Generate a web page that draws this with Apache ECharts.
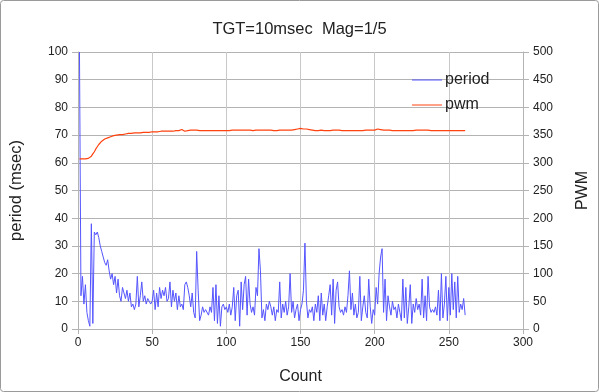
<!DOCTYPE html>
<html><head><meta charset="utf-8">
<script src="https://cdn.jsdelivr.net/npm/echarts@6/dist/echarts.min.js"></script>
<style>html,body{margin:0;padding:0;background:#fff}#c{width:599px;height:392px}</style>
</head><body><div id="c"></div>
<script>
const titleText = 'TGT=10msec  Mag=1/5';
const xTicks = [0, 50, 100, 150, 200, 250, 300];
const leftTicks = [0,10,20,30,40,50,60,70,80,90,100];
const rightTicks = [0,50,100,150,200,250,300,350,400,450,500];
const startCount = 1;
const period = [
 100,12,19,9,16,6,3,1,38,2,35,34,35,33,30,28,26,24,23,25,21,18,20,16,19,13,18,12,10,15,13,11,14,10,13,8,9,7,9,19,8,12,
 17,10,12,9,11,10,9,10,14,7,13,8,15,11,14,12,15,10,11,17,8,14,10,13,7,12,8,9,7,16,17,15,12,8,13,6,4,28,14,3,5,8,6,7,
 7,5,8,6,15,3,16,2,12,1,8,9,7,8,6,9,5,8,15,3,12,14,1,17,7,16,19,5,18,9,6,8,5,15,12,29,21,4,7,3,9,7,10,8,
 5,8,3,7,6,17,4,9,6,10,5,8,20,6,10,4,7,9,3,7,9,14,31,10,4,7,6,8,3,9,6,12,3,13,5,9,3,8,12,16,5,18,2,14,
 17,8,6,7,5,8,6,12,21,7,13,5,9,4,6,19,3,8,12,6,4,18,8,2,7,5,15,9,20,26,29,6,18,3,12,8,5,10,7,8,4,9,6,3,
 18,4,15,2,8,16,2,9,6,11,7,9,5,18,4,12,3,19,8,6,7,6,8,5,14,3,20,4,9,19,3,15,5,20,7,17,4,19,6,9,7,11,5
];
const pwm = [
 307,307,307,307,307,308,308,309,
 312,316,320,325,329,333,336,339,341,343,344,345,
 346,347,348,349,349,350,350,351,351,351,352,352,352,353,353,353,353,354,354,354,
 354,354,355,355,355,355,355,355,356,356,356,356,356,356,357,357,357,357,357,357,
 357,357,357,357,357,358,358,358,358,360,358,357,357,358,359,359,359,359,359,359,
 358,358,358,358,358,358,358,358,358,358,358,358,358,358,358,358,358,358,358,358,
 358,358,358,359,359,359,359,359,359,359,359,359,360,359,359,359,358,358,358,359,
 360,359,360,359,359,359,359,359,359,359,359,358,358,358,359,359,359,359,359,359,
 359,359,359,359,359,360,360,361,361,362,362,361,361,361,360,360,359,359,358,358,
 358,358,359,359,358,358,358,358,358,358,358,359,359,359,359,359,359,358,358,358,
 358,358,358,358,358,358,358,358,358,358,358,358,358,359,359,359,359,359,359,359,
 360,361,361,360,359,359,359,359,359,359,358,358,358,358,358,358,358,358,358,358,
 358,358,358,358,358,358,358,359,359,359,359,359,359,359,359,359,359,358,358,358,
 358,358,358,358,358,358,358,358,358,358,358,358,358,358,358,358,358,358,358,358,358
];
const periodData = period.map((v,i)=>[startCount+i, v]);
const pwmData = pwm.map((v,i)=>[startCount+i, v]);
const FONT = 'Liberation Sans';
const chart = echarts.init(document.getElementById('c'), null, {renderer:'canvas'});
const gridColor = '#b3b3b3';
chart.setOption({
  animation:false,
  backgroundColor:'#fff',
  textStyle:{fontFamily:FONT},
  title:{text:titleText, left:'center', top:16, textStyle:{fontFamily:FONT, fontSize:16.5, fontWeight:'normal', color:'#222'}},
  legend:{orient:'vertical', left:407, top:67, itemWidth:30, itemHeight:14, itemGap:9,
    textStyle:{fontFamily:FONT, fontSize:16, color:'#222', padding:[0,0,0,-2]},
    data:[{name:'period', icon:'path://M0,7L30,7L30,8L0,8Z'},{name:'pwm', icon:'path://M0,7L30,7L30,8L0,8Z'}]},
  grid:{left:77, right:72, top:52, bottom:63},
  graphic:[{type:'rect', shape:{x:0.5,y:0.5,width:598,height:391,r:3}, style:{fill:'none', stroke:'#9a9a9a', lineWidth:1}, silent:true}],
  xAxis:{type:'value', min:xTicks[0], max:xTicks[xTicks.length-1], interval:50,
    name:'Count', nameLocation:'middle', nameGap:40, nameTextStyle:{fontFamily:FONT, fontSize:16, color:'#222'},
    axisLine:{show:true, lineStyle:{color:gridColor}}, axisTick:{show:true, length:5, lineStyle:{color:gridColor}},
    axisLabel:{fontFamily:FONT, fontSize:12, color:'#222', margin:8},
    splitLine:{show:true, lineStyle:{color:'#c8c8c8', width:1}}},
  yAxis:[
    {type:'value', min:leftTicks[0], max:leftTicks[leftTicks.length-1], interval:10, position:'left',
     name:'period (msec)', nameLocation:'middle', nameGap:53, nameTextStyle:{fontFamily:FONT, fontSize:16.5, color:'#222'},
     axisLine:{show:true, lineStyle:{color:gridColor}}, axisTick:{show:true, length:6, lineStyle:{color:gridColor}},
     axisLabel:{fontFamily:FONT, fontSize:12, color:'#222', margin:10},
     splitLine:{show:true, lineStyle:{color:gridColor, width:1}}},
    {type:'value', min:rightTicks[0], max:rightTicks[rightTicks.length-1], interval:50, position:'right',
     name:'PWM', nameLocation:'middle', nameGap:52, nameRotate:90, nameTextStyle:{fontFamily:FONT, fontSize:16, color:'#222'},
     axisLine:{show:true, lineStyle:{color:gridColor}}, axisTick:{show:true, length:6, lineStyle:{color:gridColor}},
     axisLabel:{fontFamily:FONT, fontSize:12, color:'#222', margin:10},
     splitLine:{show:false}}
  ],
  series:[
    {name:'period', type:'line', yAxisIndex:0, data:periodData, symbol:'none', lineStyle:{color:'#5555ff', width:1}, itemStyle:{color:'#5555ff'}, z:3},
    {name:'pwm', type:'line', yAxisIndex:1, data:pwmData, symbol:'none', lineStyle:{color:'#ff420e', width:1.2}, itemStyle:{color:'#ff420e'}, z:4}
  ]
});
</script></body></html>
